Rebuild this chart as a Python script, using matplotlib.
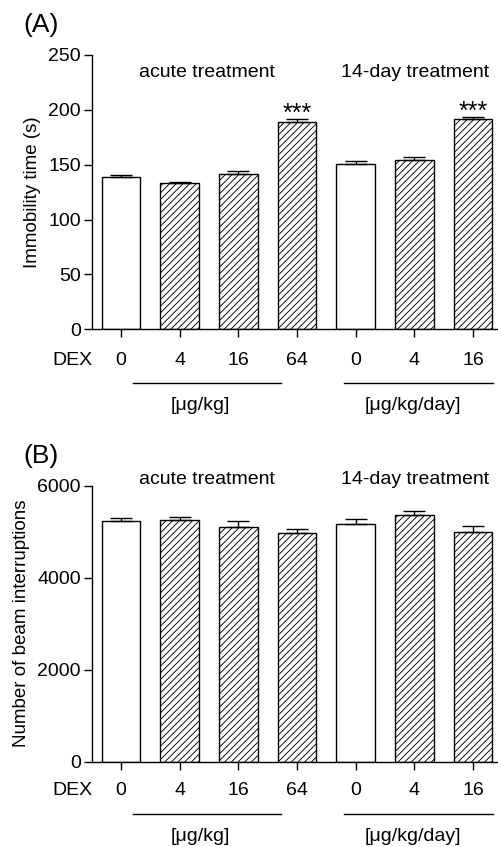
import numpy as np
import matplotlib
matplotlib.use("Agg")
import matplotlib.pyplot as plt
import matplotlib.transforms as mtransforms

plt.rcParams["font.family"] = ["Liberation Sans", "DejaVu Sans"]
plt.rcParams["hatch.linewidth"] = 0.65

# ── Datos ───────────────────────────────────────────────────
dosis = ["0", "4", "16", "64", "0", "4", "16"]
tramado = ["", "/////", "/////", "/////", "", "/////", "/////"]

inmovilidad = [139, 133.3, 141.5, 188.6, 151, 154.6, 191.3]
inmovilidad_err = [1.5, 1.0, 3.0, 2.7, 2.4, 2.7, 2.4]
sig_a = ["", "", "", "***", "", "", "***"]

interrupciones = [5233, 5248, 5109, 4965, 5161, 5357, 5000]
interrupciones_err = [60, 65, 125, 95, 115, 95, 125]
sig_b = ["", "", "", "", "", "", ""]

grupos = ["acute treatment", "14-day treatment"]
unidades = ["[\u03bcg/kg]", "[\u03bcg/kg/day]"]

FS = 14
LW = 1.0


def panel(fig, rect, vals, errs, ymax, yticks, ylabel, letra, sig, ytxt, dy=0):
    ax = fig.add_axes(rect)
    x = np.arange(len(vals))
    ax.bar(x, vals, width=0.66, color="white", edgecolor="black",
           linewidth=LW, hatch=tramado, zorder=2)
    ax.errorbar(x, vals, yerr=[np.zeros(len(vals)), errs], fmt="none",
                ecolor="black", elinewidth=LW, capsize=8, capthick=LW, zorder=3)
    ax.set_xlim(-0.494, 6.426)
    ax.set_ylim(0, ymax)
    ax.set_yticks(yticks)
    ax.set_xticks(x)
    ax.set_xticklabels(dosis)
    for s in ["top", "right"]:
        ax.spines[s].set_visible(False)
    for s in ["left", "bottom"]:
        ax.spines[s].set_linewidth(LW)
    ax.tick_params(axis="both", labelsize=FS, width=LW, length=6)
    ax.tick_params(axis="x", pad=10 + dy)
    ax.tick_params(axis="y", pad=2)
    ax.set_ylabel(ylabel, fontsize=FS - 0.5, labelpad=5)

    # etiquetas superiores de grupo
    ax.text(1.47, ytxt, grupos[0], ha="center", va="center", fontsize=FS)
    ax.text(5.01, ytxt, grupos[1], ha="center", va="center", fontsize=FS)

    # asteriscos
    for i, s in enumerate(sig):
        if s:
            ax.annotate(s, xy=(x[i], vals[i] + errs[i]), xytext=(0, -5),
                        textcoords="offset points", ha="center", va="bottom",
                        fontsize=18)

    # DEX y líneas de unidades (desplazamientos en puntos)
    trans = ax.get_xaxis_transform()
    ax.annotate("DEX", xy=(-0.494, 0), xycoords=trans, xytext=(0, -16 - dy),
                textcoords="offset points", ha="right", va="top", fontsize=FS)
    off = mtransforms.ScaledTranslation(0, (-39 - dy) / 72, fig.dpi_scale_trans)
    for (x0, x1, xc, lbl) in [(0.2, 2.73, 1.36, unidades[0]),
                              (3.8, 6.34, 4.98, unidades[1])]:
        ax.plot([x0, x1], [0, 0], transform=trans + off, color="black",
                lw=LW, clip_on=False)
        ax.annotate(lbl, xy=(xc, 0), xycoords=trans, xytext=(0, -55 - dy),
                    textcoords="offset points", ha="center", va="center",
                    fontsize=FS)

    fig.text(23 / 498, rect[1] + rect[3] + 0.035, letra, fontsize=19,
             ha="left", va="center")
    return ax


fig = plt.figure(figsize=(4.98, 8.47), dpi=100)
fig.patch.set_facecolor("white")

panel(fig, [92 / 498, 1 - 329.3 / 847, 406 / 498, 274.3 / 847],
      inmovilidad, inmovilidad_err, 250, [0, 50, 100, 150, 200, 250],
      "Immobility time (s)", "(A)", sig_a, 233.6)
panel(fig, [92 / 498, 1 - 761.7 / 847, 406 / 498, 276 / 847],
      interrupciones, interrupciones_err, 6000, [0, 2000, 4000, 6000],
      "Number of beam interruptions", "(B)", sig_b, 6124, dy=-1.5)

fig.savefig("out.png", dpi=100, facecolor="white")
